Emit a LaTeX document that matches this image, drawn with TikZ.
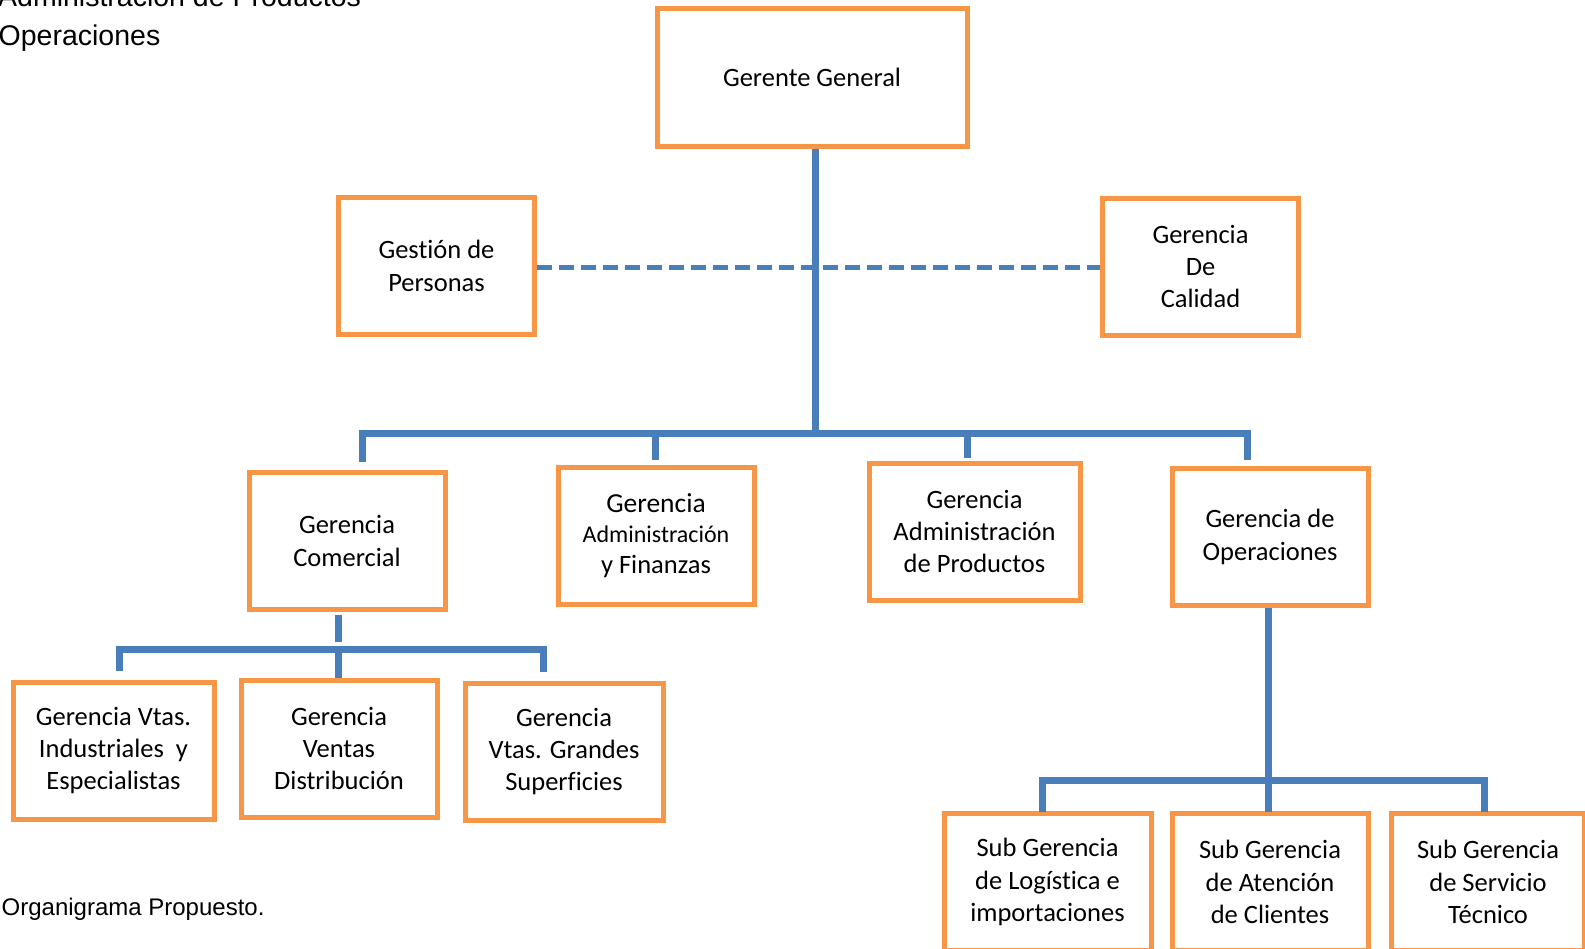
\documentclass[tikz,border=0pt]{standalone}
\usepackage{fontspec}
\setmainfont[Ligatures=NoCommon]{Carlito}
\newfontfamily\arialfont{Liberation Sans}
\definecolor{boxorange}{HTML}{F79646}
\definecolor{linkblue}{HTML}{4A7EBB}

\begin{document}
\begin{tikzpicture}[x=1pt,y=-1pt,
    unit/.style={draw=boxorange,line width=5pt,fill=white,align=center,inner sep=0pt,
      minimum width=196pt,minimum height=137pt,font=\fontsize{26.5}{32.4}\selectfont},
    link/.style={draw=linkblue,line width=7pt},
    staff/.style={draw=linkblue,line width=5pt,dash pattern=on 15pt off 7pt},
    note/.style={font=\arialfont\fontsize{28.5}{34}\selectfont,inner sep=0pt,anchor=base west}]
    \clip (0,0) rectangle (1585,948);
    \fill[white] (0,0) rectangle (1585,948);

    % side texts
    \node[note] (tl1) at (-2,6) {Administración de Productos};
    \node[note] (tl2) at (-1.5,45) {Operaciones};
    \node[note,font=\arialfont\fontsize{24}{29}\selectfont] (cap) at (1.5,915) {Organigrama Propuesto.};

    % top level
    \node[unit,minimum width=310pt,minimum height=138pt] (gg) at (812,77.5) {Gerente General};
    \node[unit] (gp) at (436.5,266) {Gestión de\\Personas};
    \node[unit] (gc) at (1200.5,266.5) {Gerencia\\De\\Calidad};

    % second level
    \node[unit] (gcom) at (347,541) {Gerencia\\Comercial};
    \node[unit] (gaf) at (656,535.5) {{\fontsize{27.5}{32}\selectfont Gerencia}\\[-2pt]
      {\fontsize{24}{30}\selectfont Administración}\\[-2pt]y Finanzas};
    \node[unit,minimum width=211pt] (gap) at (974.5,531.5) {Gerencia\\Administración\\de Productos};
    \node[unit] (gop) at (1270,537) {Gerencia de\\Operaciones};

    % third level
    \node[unit,minimum width=201pt] (gvi) at (113.5,750.5) {Gerencia Vtas.\\Industriales\ \ y\\Especialistas};
    \node[unit] (gvd) at (339,748.5) {Gerencia\\Ventas\\Distribución};
    \node[unit,minimum width=198pt] (gvg) at (564,751.5) {Gerencia\\Vtas. Grandes\\Superficies};
    \node[unit,minimum width=207pt] (sl) at (1047.5,882) {Sub Gerencia\\de Logística e\\importaciones};
    \node[unit] (sa) at (1270,882) {Sub Gerencia\\de Atención\\de Clientes};
    \node[unit,minimum width=193pt] (ss) at (1488,882) {Sub Gerencia\\de Servicio\\Técnico};

    % staff line
    \coordinate (sy) at (0,267);
    \draw[staff] (gp.east |- sy) -- (gc.west |- sy);

    % main bus
    \coordinate (hub) at (815,433);
    \coordinate (b1) at (362,433);
    \coordinate (b2) at (655,433);
    \coordinate (b3) at (967,433);
    \coordinate (b4) at (1247,433);
    \coordinate (t1) at (362,462);
    \coordinate (t2) at (655,460);
    \coordinate (t3) at (967,458);
    \coordinate (t4) at (1247,460);
    \draw[link] (gg.south -| hub) -- (hub);
    \draw[link] (t1) -- (b1) -- (b4) -- (t4);
    \draw[link] (b2) -- (t2);
    \draw[link] (b3) -- (t3);

    % comercial bus
    \coordinate (c0) at (338,615);
    \coordinate (c1) at (338,642);
    \coordinate (cl) at (119,649);
    \coordinate (cm) at (338,649);
    \coordinate (cr) at (543,649);
    \draw[link] (c0) -- (c1);
    \draw[link] (cl |- gvi.north) ++(0,-9) -- (cl) -- (cr) -- ++(0,23);
    \draw[link] (cm) -- (cm |- gvd.north);

    % operaciones bus
    \coordinate (o1) at (1268,780);
    \coordinate (ol) at (1042,780);
    \coordinate (or) at (1484,780);
    \draw[link] (gop.south -| o1) -- (o1);
    \draw[link] (ol) ++(0,32) -- (ol) -- (or) -- ++(0,32);
    \draw[link] (o1) -- ++(0,32);
\end{tikzpicture}
\end{document}
